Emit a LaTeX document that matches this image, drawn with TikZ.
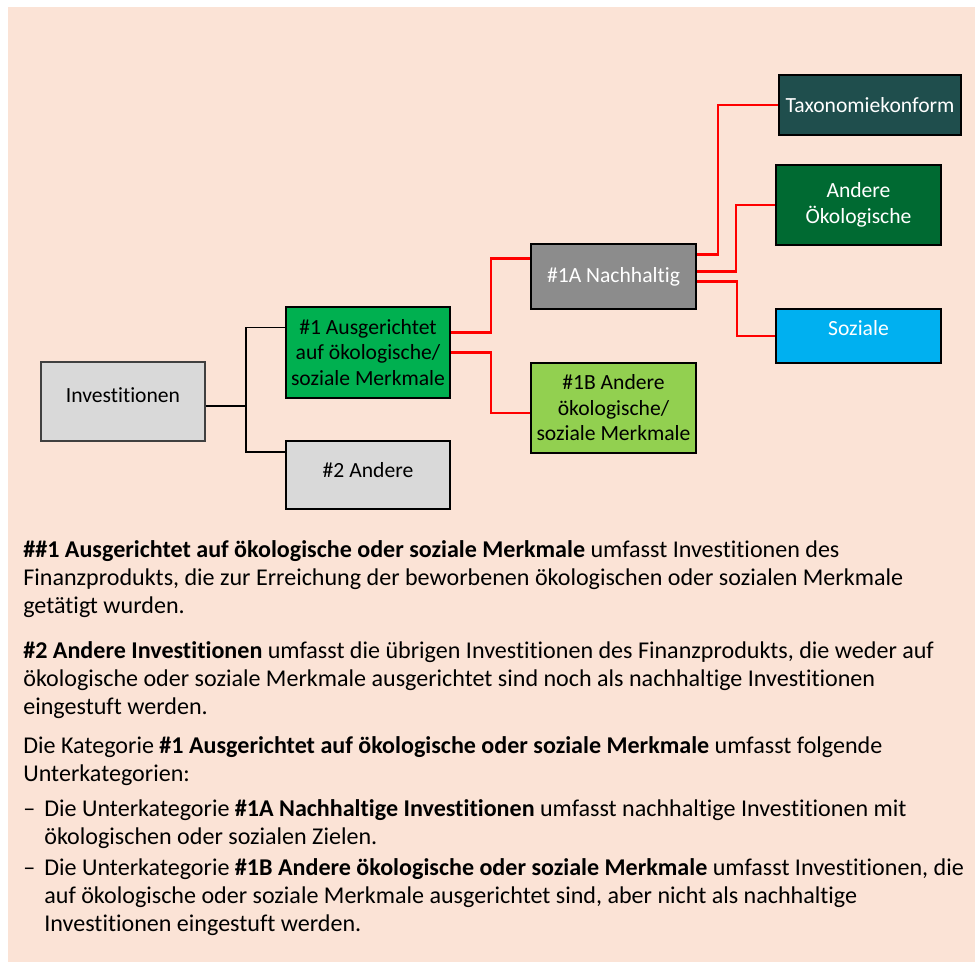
\documentclass[tikz,border=0pt]{standalone}
\usepackage{fontspec}
\setmainfont{Carlito}[Ligatures=NoCommon]
\usetikzlibrary{positioning, calc}
\definecolor{Peach}{HTML}{FBE3D6}
\definecolor{BoxGray}{HTML}{D9D9D9}
\definecolor{MidGray}{HTML}{8C8C8C}
\definecolor{Green}{HTML}{00B050}
\definecolor{LightGreen}{HTML}{92D050}
\definecolor{DarkTeal}{HTML}{1F4E4D}
\definecolor{DarkGreen}{HTML}{006A32}
\definecolor{SkyBlue}{HTML}{00B0F0}
\definecolor{LineRed}{HTML}{FF0000}
\newcommand{\textlines}[1]{\begin{tabular}[t]{@{}l@{}}#1\end{tabular}}
\tikzset{
    catbox/.style={rectangle, draw=black, line width=1.3pt, inner sep=0pt, align=center, font=\fontsize{12.3}{14.5}\selectfont},
    treeline/.style={black, line width=1.1pt},
    redline/.style={LineRed, line width=1.2pt},
    bodytext/.style={anchor=base west, inner sep=0pt, font=\fontsize{13.7}{16}\selectfont},
}
\begin{document}
\begin{tikzpicture}[x=0.02cm, y=-0.02cm]
    \useasboundingbox (0,0) rectangle (975,963);
    \fill[Peach] (8,7) rectangle (975,962);

    % Baum
    \node[catbox, fill=BoxGray, draw=black!75, line width=0.8pt, minimum width=3.28cm, minimum height=1.58cm, text depth=7pt] (inv) at (123,401.5) {Investitionen};
    \node[catbox, fill=Green, minimum width=3.28cm, minimum height=1.82cm] (ausg) at (368,352.5) {\#1 Ausgerichtet\\auf ökologische/\\soziale Merkmale};
    \node[catbox, fill=BoxGray, minimum width=3.28cm, minimum height=1.36cm, text depth=6pt] (andere) at (368,475) {\#2 Andere};
    \node[catbox, fill=MidGray, text=white, minimum width=3.3cm, minimum height=1.3cm] (nachh) at (613.5,276.5) {\#1A Nachhaltig};
    \node[catbox, fill=LightGreen, minimum width=3.3cm, minimum height=1.8cm] (merk) at (613.5,408) {\#1B Andere\\ökologische/\\soziale Merkmale};
    \node[catbox, fill=DarkTeal, text=white, line width=0.8pt, minimum width=3.64cm, minimum height=1.2cm] (taxo) at (870,105) {Taxonomiekonform};
    \node[catbox, fill=DarkGreen, text=white, minimum width=3.3cm, minimum height=1.6cm] (oeko) at (858.5,205) {Andere\\Ökologische};
    \node[catbox, fill=SkyBlue, text=white, minimum width=3.3cm, minimum height=1.08cm, text depth=9pt] (sozi) at (858.5,336) {Soziale};

    % Verbindungen
    \coordinate (fork) at (246,406);
    \draw[treeline] (inv.east |- fork) -- (fork);
    \draw[treeline] (fork) |- ($(ausg.west)+(0,-25)$);
    \draw[treeline] (fork) |- ($(andere.west)+(0,-23)$);
    \draw[redline] ($(ausg.east)+(0,-20)$) -- ++(40,0) |- ($(nachh.west)+(0,-18)$);
    \draw[redline] (ausg.east) -- ++(40,0) |- ($(merk.west)+(0,5)$);
    \draw[redline] ($(nachh.east)+(0,-22)$) -- ++(21,0) |- (taxo.west);
    \draw[redline] ($(nachh.east)+(0,-5)$) -- ++(39,0) |- (oeko.west);
    \draw[redline] ($(nachh.east)+(0,5)$) -- ++(40,0) |- (sozi.west);

    % Erläuterungen
    \node[bodytext] (para1) at (23,557) {\textlines{\textbf{\#\#1 Ausgerichtet auf ökologische oder soziale Merkmale} umfasst Investitionen des\\
        Finanzprodukts, die zur Erreichung der beworbenen ökologischen oder sozialen Merkmale\\
        getätigt wurden.}};
    \node[bodytext] (para2) at (23,658) {\textlines{\textbf{\#2 Andere Investitionen} umfasst die übrigen Investitionen des Finanzprodukts, die weder auf\\
        ökologische oder soziale Merkmale ausgerichtet sind noch als nachhaltige Investitionen\\
        eingestuft werden.}};
    \node[bodytext] (para3) at (23,753) {\textlines{Die Kategorie \textbf{\#1 Ausgerichtet auf ökologische oder soziale Merkmale} umfasst folgende\\
        Unterkategorien:}};
    \node[bodytext] (dash1) at (23,816) {--};
    \node[bodytext] (item1) at (44,816) {\textlines{Die Unterkategorie \textbf{\#1A Nachhaltige Investitionen} umfasst nachhaltige Investitionen mit\\
        ökologischen oder sozialen Zielen.}};
    \node[bodytext] (dash2) at (23,875) {--};
    \node[bodytext] (item2) at (44,875) {\textlines{Die Unterkategorie \textbf{\#1B Andere ökologische oder soziale Merkmale} umfasst Investitionen, die\\
        auf ökologische oder soziale Merkmale ausgerichtet sind, aber nicht als nachhaltige\\
        Investitionen eingestuft werden.}};
\end{tikzpicture}
\end{document}
